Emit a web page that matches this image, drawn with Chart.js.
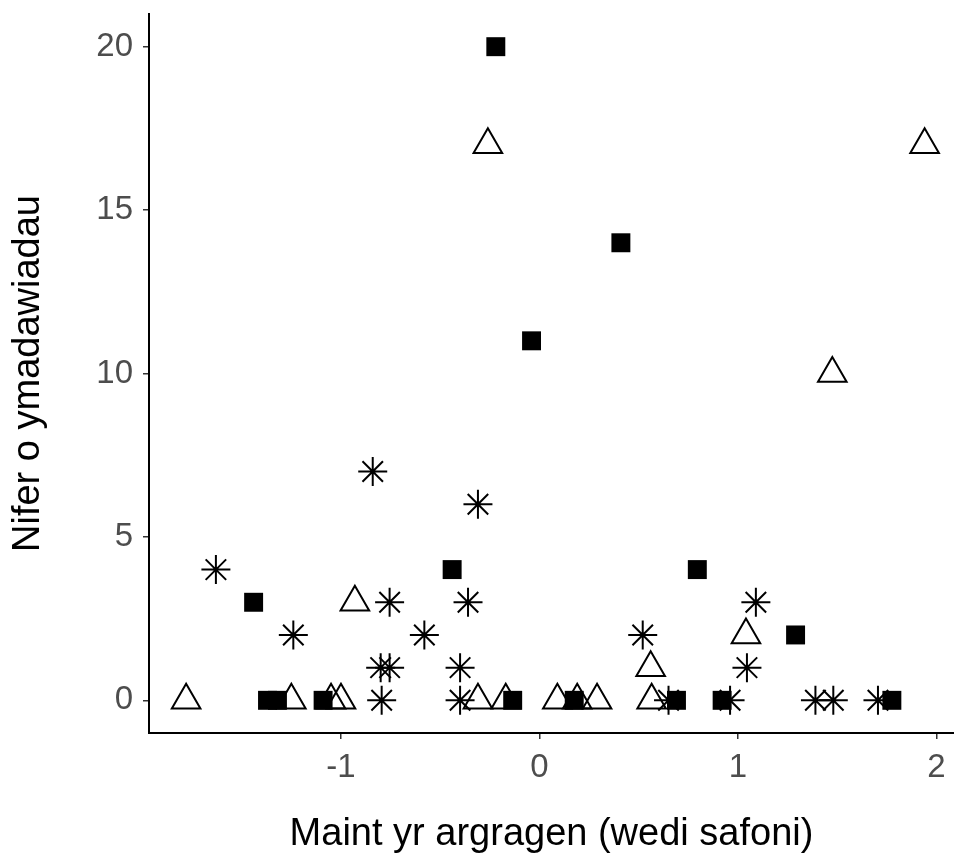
<!DOCTYPE html>
<html>
<head>
<meta charset="utf-8">
<script src="https://cdn.jsdelivr.net/npm/chart.js@4"></script>
<style>
  html, body { margin: 0; padding: 0; background: #fff; overflow: hidden; }
  #wrap { width: 954px; height: 857px; }
</style>
</head>
<body>
<div id="wrap"><canvas id="plot" width="954" height="857"></canvas></div>
<script>
// values
const squareX = [-0.22, 0.41, -0.04, -0.44, 0.795, -1.44, 1.29, -1.37, -1.32, -1.09, -0.135, 0.175, 0.69, 0.92, 1.775];
const squareY = [20, 14, 11, 4, 4, 3, 2, 0, 0, 0, 0, 0, 0, 0, 0];

const triangleX = [-0.26, 1.94, 1.475, -0.93, 1.04, 0.56, -1.78, -1.25, -1.05, -1.0, -0.31, -0.17, 0.09, 0.19, 0.29, 0.565];
const triangleY = [17, 17, 10, 3, 2, 1, 0, 0, 0, 0, 0, 0, 0, 0, 0, 0];

const starX = [-0.84, -0.31, -1.63, -0.755, -0.36, 1.09, -1.24, -0.58, 0.52, -0.80, -0.755, -0.40, 1.045, -0.795, -0.40, 0.65, 0.96, 1.39, 1.48, 1.705];
const starY = [7, 6, 4, 3, 3, 3, 2, 2, 2, 1, 1, 1, 1, 0, 0, 0, 0, 0, 0, 0];

const xTicks = [-1, 0, 1, 2];
const yTicks = [0, 5, 10, 15, 20];

const xTitle = "Maint yr argragen (wedi safoni)";
const yTitle = "Nifer o ymadawiadau";

function toPoints(xs, ys) {
  return xs.map((x, i) => ({ x: x, y: ys[i] }));
}

const tickFont = { family: "'Liberation Sans', Arial, sans-serif", size: 33 };
const titleFont = { family: "'Liberation Sans', Arial, sans-serif", size: 38 };

new Chart(document.getElementById("plot"), {
  type: "scatter",
  data: {
    datasets: [
      {
        label: "triangle",
        data: toPoints(triangleX, triangleY),
        pointStyle: "triangle",
        pointRadius: 16.5,
        backgroundColor: "rgba(0,0,0,0)",
        borderColor: "#000",
        borderWidth: 2,
        order: 3
      },
      {
        label: "square",
        data: toPoints(squareX, squareY),
        pointStyle: "rect",
        pointRadius: 13.4,
        backgroundColor: "#000",
        borderColor: "#000",
        borderWidth: 0,
        order: 2
      },
      {
        label: "star",
        data: toPoints(starX, starY),
        pointStyle: "star",
        pointRadius: 14.5,
        backgroundColor: "#000",
        borderColor: "#000",
        borderWidth: 2,
        order: 1
      }
    ]
  },
  options: {
    responsive: false,
    animation: false,
    events: [],
    layout: { autoPadding: false, padding: { top: 14, left: 0, right: 0, bottom: 0 } },
    plugins: { legend: { display: false }, tooltip: { enabled: false } },
    scales: {
      x: {
        type: "linear",
        min: -1.967,
        max: 2.088,
        afterFit: s => { s.height = 124; s.paddingLeft = 0; s.paddingRight = 0; },
        afterBuildTicks: s => { s.ticks = xTicks.map(v => ({ value: v })); },
        border: { display: true, color: "#000", width: 2 },
        grid: { drawOnChartArea: false, drawTicks: true, tickLength: 6, color: "#333", lineWidth: 1.5 },
        ticks: { color: "#4d4d4d", font: tickFont, padding: 9, maxRotation: 0 },
        title: { display: true, text: xTitle, color: "#000", font: titleFont, padding: { top: 0, bottom: 0 } }
      },
      y: {
        type: "linear",
        min: -1,
        max: 21,
        afterFit: s => { s.width = 149; s.paddingTop = 0; s.paddingBottom = 0; },
        afterBuildTicks: s => { s.ticks = yTicks.map(v => ({ value: v })); },
        border: { display: true, color: "#000", width: 2 },
        grid: { drawOnChartArea: false, drawTicks: true, tickLength: 6, color: "#333", lineWidth: 1.5 },
        ticks: { color: "#4d4d4d", font: tickFont, padding: 10 },
        title: { display: true, text: yTitle, color: "#000", font: titleFont, padding: { top: 6, bottom: 0 } }
      }
    }
  }
});
</script>
</body>
</html>
